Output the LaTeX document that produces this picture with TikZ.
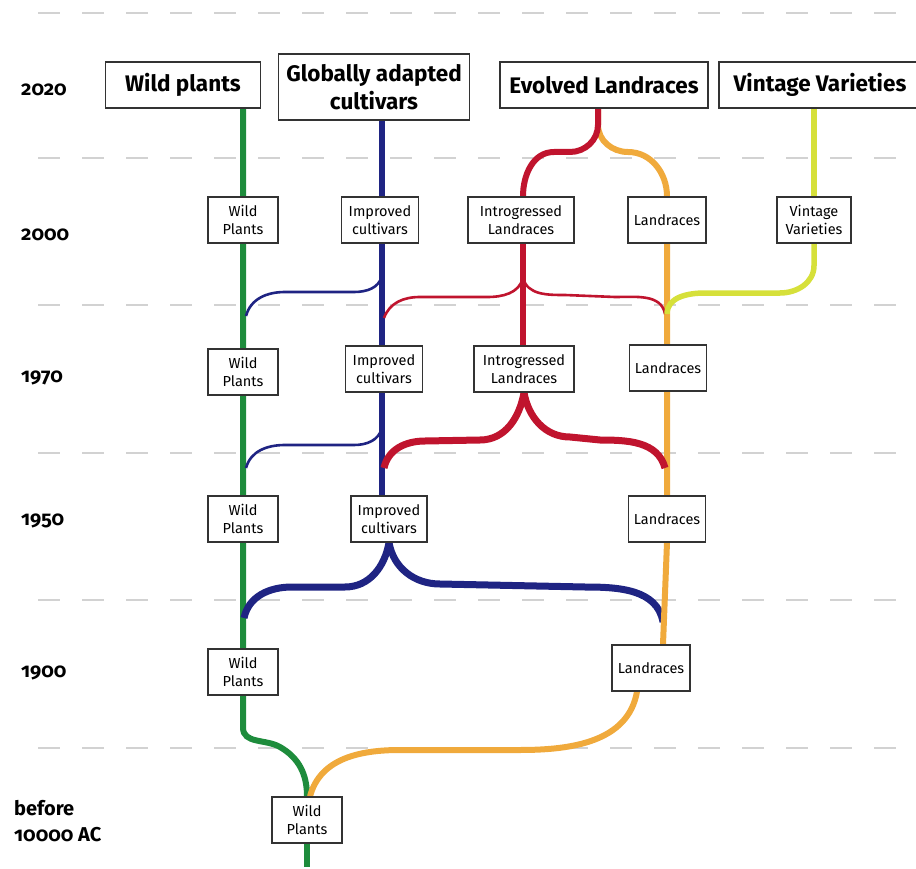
\documentclass[tikz,border=0pt]{standalone}
\usepackage{fontspec}
\setmainfont{Fira Sans}
\newfontfamily\yearfont[RawFeature=+onum]{Fira Sans}
\usetikzlibrary{backgrounds}

\definecolor{wildgreen}{HTML}{1E8C3C}
\definecolor{cultblue}{HTML}{1F2483}
\definecolor{introred}{HTML}{C0142E}
\definecolor{landorange}{HTML}{F0AA3C}
\definecolor{vintyellow}{HTML}{D6E03A}
\definecolor{boxline}{HTML}{333333}
\definecolor{gridgray}{HTML}{D2D2D2}

\tikzset{
  bigbox/.style={draw=boxline, line width=1.6pt, fill=white, align=center,
    inner sep=0pt, minimum height=46pt,
    font=\bfseries\fontsize{22.5}{28}\selectfont},
  smallbox/.style={draw=boxline, line width=1.3pt, fill=white, align=center,
    inner sep=0pt, minimum height=46pt,
    font=\fontsize{14.5}{18.5}\selectfont},
  year/.style={anchor=west, inner sep=0pt, align=left,
    font=\yearfont\bfseries\fontsize{20}{26}\selectfont},
  gridline/.style={gridgray, line width=1.8pt, dash pattern=on 22pt off 22pt},
  greenline/.style={wildgreen, line width=6pt},
  blueline/.style={cultblue, line width=5.5pt},
  bluethin/.style={cultblue, line width=2.6pt},
  bluethick/.style={cultblue, line width=7pt},
  redline/.style={introred, line width=6pt},
  redthin/.style={introred, line width=2.6pt},
  redthick/.style={introred, line width=7pt},
  orangeline/.style={landorange, line width=6pt},
  yellowline/.style={vintyellow, line width=5.5pt},
}

\begin{document}
\begin{tikzpicture}[x=1pt, y=-1pt]
\useasboundingbox (0,0) rectangle (916,869);

% time axis
\node[year] (y2020) at (21,90) {2020};
\node[year] (y2000) at (21,235) {2000};
\node[year] (y1970) at (21,378) {1970};
\node[year] (y1950) at (21,521) {1950};
\node[year] (y1900) at (21,673) {1900};
\node[year] (yold) at (14,821) {before\\10000 AC};

% present-day groups
\node[bigbox, minimum width=155pt] (wp20) at (183,85) {Wild plants};
\node[bigbox, minimum width=191pt, minimum height=66pt] (gac) at (374,87) {Globally adapted\\cultivars};
\node[bigbox, minimum width=208pt] (ev) at (604,85) {Evolved Landraces};
\node[bigbox, minimum width=202pt] (vv) at (820,85) {Vintage Varieties};

% 2000
\node[smallbox, minimum width=70pt] (wp00) at (243,220) {Wild\\Plants};
\node[smallbox, minimum width=77pt] (im00) at (380,220) {Improved\\cultivars};
\node[smallbox, minimum width=106pt] (il00) at (521,220) {Introgressed\\Landraces};
\node[smallbox, minimum width=78pt] (lr00) at (667,220) {Landraces};
\node[smallbox, minimum width=74pt] (lv00) at (814,220) {Vintage\\Varieties};

% 1970
\node[smallbox, minimum width=70pt] (wp70) at (243,372) {Wild\\Plants};
\node[smallbox, minimum width=77pt] (im70) at (384,369) {Improved\\cultivars};
\node[smallbox, minimum width=100pt] (il70) at (524,369) {Introgressed\\Landraces};
\node[smallbox, minimum width=77pt] (lr70) at (668,368) {Landraces};

% 1950
\node[smallbox, minimum width=70pt] (wp50) at (243,519) {Wild\\Plants};
\node[smallbox, minimum width=76pt] (im50) at (389,519) {Improved\\cultivars};
\node[smallbox, minimum width=77pt] (lr50) at (667,519) {Landraces};

% 1900
\node[smallbox, minimum width=70pt] (wp19) at (243,672) {Wild\\Plants};
\node[smallbox, minimum width=78pt] (lr19) at (651,668) {Landraces};

% before 10000 AC
\node[smallbox, minimum width=70pt] (wp0) at (307,820) {Wild\\Plants};

% columns of the long-lived lineages
\coordinate (bx) at (382,0);
\coordinate (rx) at (523,0);

% junctions where lineages merge
\coordinate (bt1s) at (382,276);
\coordinate (bt1e) at (246,316);
\coordinate (rts) at (523,278);
\coordinate (rtl) at (384,318);
\coordinate (rtr) at (665,314);
\coordinate (ym) at (667,314);
\coordinate (bt2s) at (382,428);
\coordinate (bt2e) at (246,468);
\coordinate (rkl) at (384,468);
\coordinate (rkr) at (665,468);
\coordinate (bkl) at (244,618);
\coordinate (bkr) at (663,622);

\begin{scope}[on background layer]
  % period separators
  \foreach \yy in {13,158,305,453,600,748}
    \draw[gridline] (38,\yy) -- (916,\yy);

  % wild plants
  \draw[greenline] (wp00 |- wp20.south) -- (wp19.south) -- ++(0,32)
    to[out=-90,in=150] (280,747) to[out=-30,in=90] (wp0.north);
  \draw[greenline] (wp0.south) -- ++(0,23);

  % improved cultivars
  \draw[blueline] (bx |- gac.south) -- (bx |- im50.north);
  \draw[bluethin] (bt1s) to[out=-105,in=0] (354,292) -- (285,292)
    to[out=180,in=75] (bt1e);
  \draw[bluethin] (bt2s) to[out=-105,in=0] (354,445) -- (285,445)
    to[out=180,in=75] (bt2e);
  \draw[bluethick] (im50.south) to[out=-100,in=0] (345,587) -- (292,587)
    to[out=180,in=78] (bkl);
  \draw[bluethick] (im50.south) to[out=-80,in=180] (440,584) -- (585,587)
    to[out=0,in=100] (bkr);

  % landraces
  \draw[orangeline] ([xshift=-6pt]ev.south) -- ++(0,16)
    to[out=-90,in=180] (628,152) to[out=0,in=90] (lr00.north)
    -- (lr50.south) -- ([xshift=12pt]lr19.north);
  \draw[orangeline] ([xshift=-14pt]lr19.south) to[out=-100,in=0] (520,750)
    -- (400,750) to[out=180,in=75] ([xshift=3pt]wp0.north);

  % introgressed landraces
  \draw[redline] ([xshift=-6pt]ev.south) -- ++(0,16)
    to[out=-90,in=0] (570,152) -- (554,152) to[out=180,in=90] (rx |- il00.north);
  \draw[redline] (rx |- il00.south) -- (rx |- il70.north);
  \draw[redthin] (rts) to[out=-105,in=0] (487,297) -- (420,297)
    to[out=180,in=70] (rtl);
  \draw[redthin] (rts) to[out=-75,in=180] (565,295) -- (615,297)
    to[out=0,in=100] (rtr);
  \draw[redthick] (il70.south) to[out=-100,in=0] (480,440) -- (425,441)
    to[out=180,in=78] (rkl);
  \draw[redthick] (il70.south) to[out=-80,in=180] (570,437) -- (600,440)
    to[out=0,in=105] (rkr);

  % vintage varieties
  \draw[yellowline] (lv00 |- vv.south) -- (lv00.north);
  \draw[yellowline] (lv00.south) -- ++(0,22) to[out=-90,in=0] (780,293)
    -- (705,293) to[out=180,in=90] (ym);
\end{scope}
\end{tikzpicture}
\end{document}
